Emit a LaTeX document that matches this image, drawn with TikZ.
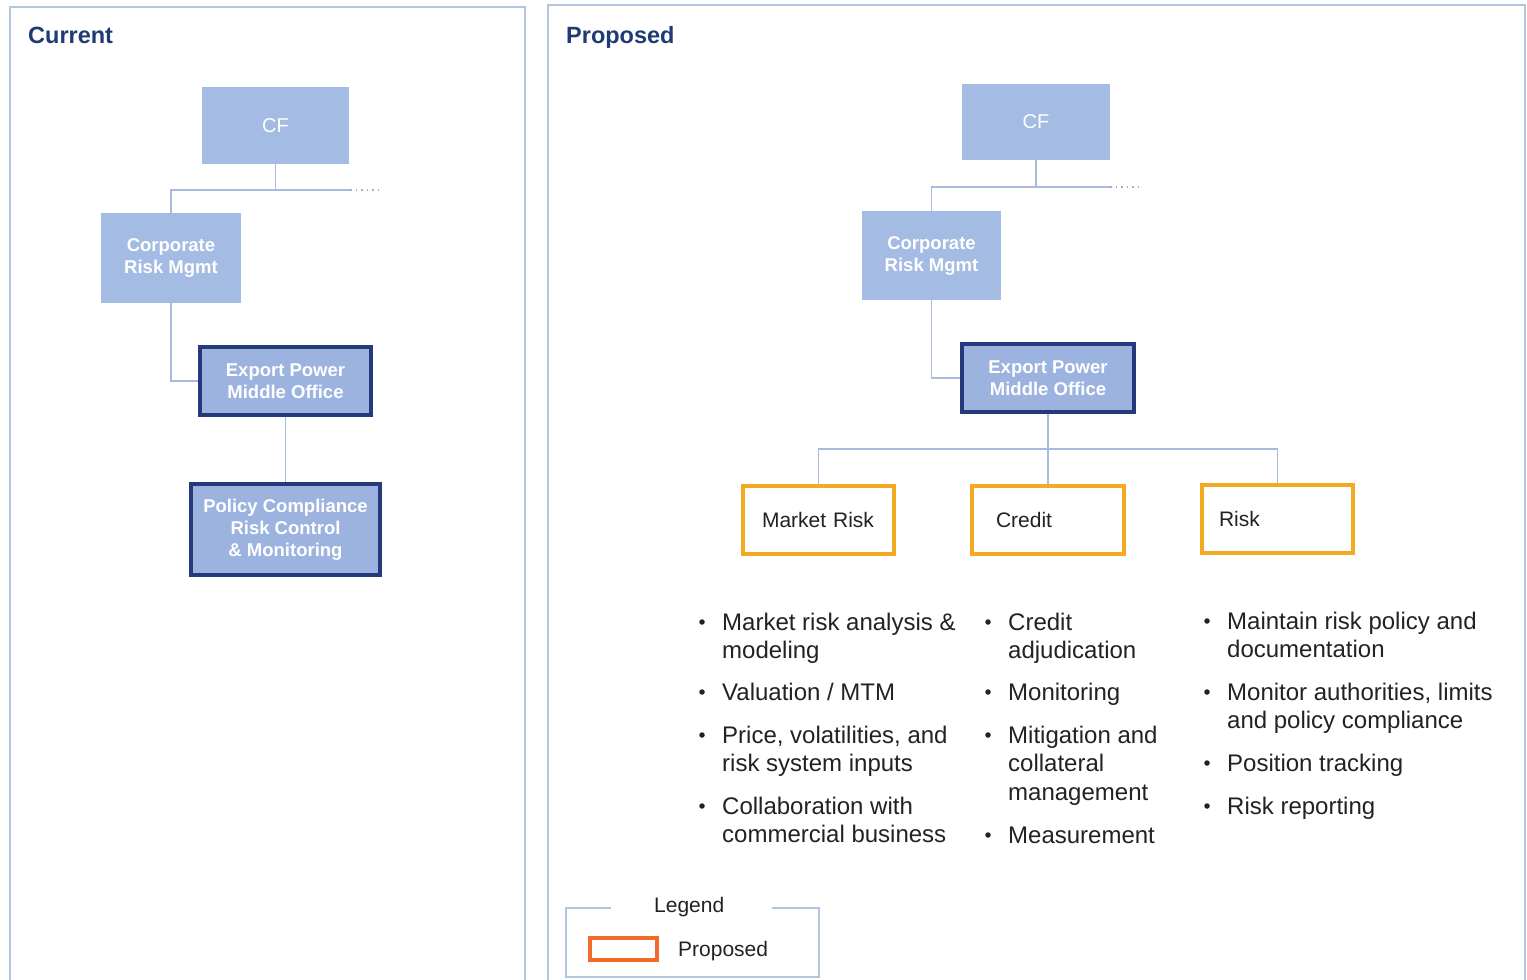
\documentclass[tikz,border=0pt]{standalone}
\usepackage{fontspec}
\setmainfont{Liberation Sans}

\definecolor{boxblue}{HTML}{A4BCE4}
\definecolor{boxbluedeep}{HTML}{9CB3E0}
\definecolor{navy}{HTML}{243A7A}
\definecolor{gold}{HTML}{F4A922}
\definecolor{legorange}{HTML}{F26B2B}
\definecolor{linkblue}{HTML}{A7BCDC}
\definecolor{panelblue}{HTML}{B2C6E2}
\definecolor{titlenavy}{HTML}{1F3B73}
\definecolor{textdark}{HTML}{222222}

\begin{document}
\begin{tikzpicture}[x=1pt,y=-1pt,
  panel/.style={draw=panelblue, line width=1.5pt},
  paneltitle/.style={anchor=base west, inner sep=0pt, text=titlenavy,
    font=\fontsize{23.5}{28}\selectfont\bfseries},
  bluebox/.style={fill=boxblue, text=white, align=center, inner sep=0pt,
    font=\fontsize{18.5}{22}\selectfont\bfseries},
  cfbox/.style={bluebox, font=\fontsize{20}{24}\selectfont},
  navybox/.style={bluebox, fill=boxbluedeep, draw=navy, line width=4pt},
  orgbox/.style={draw=gold, line width=4pt, fill=white, text=textdark,
    align=left, inner sep=0pt, minimum height=68pt,
    font=\fontsize{21}{25}\selectfont},
  conn/.style={draw=linkblue, line width=1.4pt},
  dotconn/.style={draw=linkblue!80!gray, line width=1.2pt, dash pattern=on 1.5pt off 4pt},
  dot/.style={circle, fill=textdark, inner sep=0pt, minimum size=5.5pt},
  % multi-line items are placed by the baseline of their last line
  itemtxt/.style={anchor=base west, align=left, inner sep=0pt, text=textdark,
    font=\fontsize{24}{28.5}\selectfont},
  legtxt/.style={anchor=base west, inner sep=0pt, text=textdark,
    font=\fontsize{21}{25}\selectfont},
  legline/.style={draw=panelblue, line width=1.4pt}
]
\useasboundingbox (0,0) rectangle (1527,980);
\fill[white] (0,0) rectangle (1527,980);

% ---------- panel frames ----------
\draw[panel] (10,980) -- (10,7) -- (525,7) -- (525,980);
\draw[panel] (548,980) -- (548,5) -- (1525,5) -- (1525,980);
\node[paneltitle] (tCur) at (28,43) {Current};
\node[paneltitle] (tProp) at (566,43) {Proposed};

% ---------- current structure ----------
\node[cfbox, minimum width=147pt, minimum height=77pt] (cfA) at (275.5,125.5) {CF};
\node[bluebox, minimum width=140pt, minimum height=90pt] (crA) at (171,258) {Corporate\\Risk Mgmt};
\node[navybox, minimum width=171pt, minimum height=68pt] (exA) at (285.5,381) {Export Power\\Middle Office};
\node[navybox, minimum width=189pt, minimum height=91pt] (plA) at (285.5,529.5) {Policy Compliance\\Risk Control\\\& Monitoring};

\coordinate (jA) at (275.5,190);
\coordinate (eA) at (350,190);
\coordinate (dA) at (378,190);
\draw[conn] (cfA.south) -- (jA);
\draw[conn] (eA) -| (crA.north);
\draw[dotconn] (eA) -- (dA);
\draw[conn] (crA.south) |- (exA.west);
\draw[conn] (exA.south) -- (plA.north);

% ---------- proposed structure ----------
\node[cfbox, minimum width=148pt, minimum height=76pt] (cfB) at (1036,122) {CF};
\node[bluebox, minimum width=139pt, minimum height=89pt] (crB) at (931.5,255.5) {Corporate\\Risk Mgmt};
\node[navybox, minimum width=172pt, minimum height=68pt] (exB) at (1048,378) {Export Power\\Middle Office};

\node[orgbox, minimum width=151pt, text width=151pt] (mrB) at (818.5,520) {\hspace*{19pt}Market Risk};
\node[orgbox, minimum width=152pt, text width=152pt] (cdB) at (1048,520) {\hspace*{24pt}Credit};
\node[orgbox, minimum width=151pt, text width=151pt] (rkB) at (1277.5,519) {\hspace*{17pt}Risk};

\coordinate (jB) at (1036,187);
\coordinate (eB) at (1110,187);
\coordinate (dB) at (1140,187);
\coordinate (bB) at (1048,449);
\draw[conn] (cfB.south) -- (jB);
\draw[conn] (eB) -| (crB.north);
\draw[dotconn] (eB) -- (dB);
\draw[conn] (crB.south) |- (exB.west);
\draw[conn] (exB.south) -- (cdB.north);
\draw[conn] (mrB.north) |- (bB) -| (rkB.north);

% ---------- responsibilities: market risk ----------
\node[dot] (m1d) at (702,622) {};
\node[itemtxt] (m1) at (722,658.5) {Market risk analysis \&\\modeling};
\node[dot] (m2d) at (702,692) {};
\node[itemtxt] (m2) at (722,700) {Valuation / MTM};
\node[dot] (m3d) at (702,735) {};
\node[itemtxt] (m3) at (722,771.5) {Price, volatilities, and\\risk system inputs};
\node[dot] (m4d) at (702,806) {};
\node[itemtxt] (m4) at (722,842.5) {Collaboration with\\commercial business};

% ---------- responsibilities: credit ----------
\node[dot] (c1d) at (988,622) {};
\node[itemtxt] (c1) at (1008,658.5) {Credit\\adjudication};
\node[dot] (c2d) at (988,692) {};
\node[itemtxt] (c2) at (1008,700) {Monitoring};
\node[dot] (c3d) at (988,735) {};
\node[itemtxt] (c3) at (1008,800) {Mitigation and\\collateral\\management};
\node[dot] (c4d) at (988,835) {};
\node[itemtxt] (c4) at (1008,843) {Measurement};

% ---------- responsibilities: risk ----------
\node[dot] (r1d) at (1207,621) {};
\node[itemtxt] (r1) at (1227,657.5) {Maintain risk policy and\\documentation};
\node[dot] (r2d) at (1207,692) {};
\node[itemtxt] (r2) at (1227,728.5) {Monitor authorities, limits\\and policy compliance};
\node[dot] (r3d) at (1207,763) {};
\node[itemtxt] (r3) at (1227,771) {Position tracking};
\node[dot] (r4d) at (1207,806) {};
\node[itemtxt] (r4) at (1227,814) {Risk reporting};

% ---------- legend ----------
\draw[legline] (611,908) -- (566,908) -- (566,977) -- (819,977) -- (819,908) -- (772,908);
\node[legtxt] (lgT) at (654,912.5) {Legend};
\node[draw=legorange, line width=4pt, fill=white, minimum width=67pt, minimum height=22pt, inner sep=0pt] (lgBox) at (623.5,949) {};
\node[legtxt] (lgP) at (678,956.5) {Proposed};
\end{tikzpicture}
\end{document}
